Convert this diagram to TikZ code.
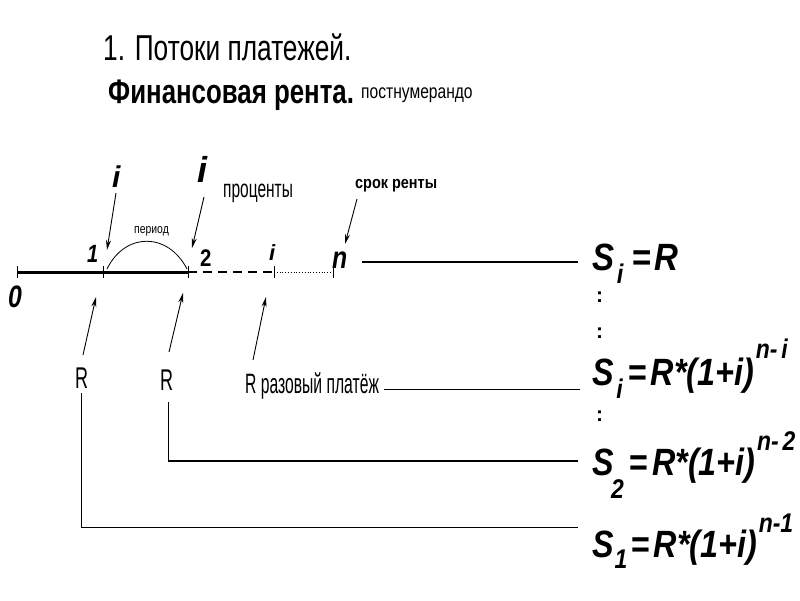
\documentclass[tikz,border=0pt]{standalone}
\usepackage{fontspec}
\usepackage{graphicx}
\setmainfont{Liberation Sans}
\usetikzlibrary{arrows.meta}
\newcommand\sq[2]{\scalebox{#1}[1]{#2}}
\newcommand\fsz[1]{\fontsize{#1}{#1}\selectfont}
\newcommand\fbi{\bfseries\itshape}
\newcommand\ssub[2]{\raisebox{#1}{\fsz{27}#2}}
\begin{document}
\begin{tikzpicture}[x=1pt,y=-1pt,
  txt/.style={inner sep=0pt, anchor=base west},
  arr/.style={line width=0.9pt, -{Stealth[length=10pt,width=5pt]}},
  ln/.style={line width=1pt},
  tick/.style={line width=0.6pt},
  frm/.style={txt, font=\fsz{38}\fbi}]
\useasboundingbox[fill=white] (0,0) rectangle (800,600);

% titles
\node[txt] (t1) at (103,60) {\fsz{36}\sq{0.73}{1. Потоки платежей.}};
\node[txt] (t2) at (108,103) {\fsz{34}\bfseries\sq{0.76}{Финансовая рента.}};
\node[txt] (t3) at (361,98) {\fsz{20}\sq{0.78}{постнумерандо}};

% timeline
\coordinate (p0) at (17,272);
\coordinate (p1) at (103,272);
\coordinate (p2) at (188,272);
\coordinate (pi) at (274,272);
\coordinate (pn) at (333,272);
\draw[line width=3pt] (p0) -- (p2);
\draw[line width=1.5pt, dash pattern=on 9pt off 6pt] (p2) -- (pi);
\draw[line width=0.8pt, dotted] (pi) -- (pn);
\foreach \p in {p0,p1,p2,pi,pn}
  \draw[tick] ([yshift=-6pt]\p) -- ([yshift=6pt]\p);
\draw[line width=0.8pt] (107,269) .. controls (125,232) and (168,232) .. (187,269);

% timeline labels
\node[txt] (l0) at (8,307) {\fsz{31}\fbi\sq{0.8}{0}};
\node[txt] (l1) at (87,262) {\fsz{25}\fbi\sq{0.8}{1}};
\node[txt] (l2) at (200,266) {\fsz{24}\bfseries\sq{0.85}{2}};
\node[txt] (li) at (269,260) {\fsz{22}\fbi i};
\node[txt] (ln) at (332,268) {\fsz{31}\fbi\sq{0.8}{n}};
\node[txt] (ia) at (112,187) {\fsz{30}\fbi i};
\node[txt] (ib) at (197,182) {\fsz{36}\fbi i};
\node[txt] (pr) at (223,197) {\fsz{25}\sq{0.62}{проценты}};
\node[txt] (sr) at (355,188) {\fsz{17}\bfseries\sq{0.85}{срок ренты}};
\node[txt] (pe) at (134,233) {\fsz{13}\sq{0.8}{период}};

% top arrows
\coordinate (a1s) at (116,193); \coordinate (a1e) at (107,250);
\coordinate (a2s) at (204,197); \coordinate (a2e) at (192,248);
\coordinate (a3s) at (357,199); \coordinate (a3e) at (345,244);
\draw[arr] (a1s) -- (a1e);
\draw[arr] (a2s) -- (a2e);
\draw[arr] (a3s) -- (a3e);

% bottom arrows
\coordinate (b1s) at (83,355); \coordinate (b1e) at (96,297);
\coordinate (b2s) at (169,352); \coordinate (b2e) at (183,293);
\coordinate (b3s) at (253,360); \coordinate (b3e) at (266,297);
\draw[arr] (b1s) -- (b1e);
\draw[arr] (b2s) -- (b2e);
\draw[arr] (b3s) -- (b3e);

% R labels
\node[txt] (r1) at (75,388) {\fsz{30}\sq{0.6}{R}};
\node[txt] (r2) at (160,390) {\fsz{30}\sq{0.6}{R}};
\node[txt] (r3) at (245,393) {\fsz{28}\sq{0.56}{R разовый платёж}};

% formulas
\node[frm] (f1) at (592,270) {\sq{0.87}{S\hspace{3pt}\ssub{-13pt}{i}\hspace{10pt}{\upshape=}\hspace{4pt}R}};
\node[frm] (f2) at (592,385) {\sq{0.85}{S\hspace{3pt}\ssub{-13pt}{i}\hspace{7pt}{\upshape=}\hspace{4pt}R*(1+i)\hspace{2pt}\ssub{27pt}{n-\,i}}};
\node[frm] (f3) at (592,475) {\sq{0.85}{S\hspace{-3pt}\ssub{-23pt}{2}\hspace{7pt}{\upshape=}\hspace{4pt}R*(1+i)\hspace{2pt}\ssub{25pt}{n-\,2}}};
\node[frm] (f4) at (592,557) {\sq{0.85}{S\hspace{1pt}\ssub{-11pt}{1}\hspace{5pt}{\upshape=}\hspace{4pt}R*(1+i)\hspace{2pt}\ssub{25pt}{n-1}}};

% vertical dots
\node[txt] (d1) at (596,302) {\fsz{21}\bfseries :};
\node[txt] (d2) at (596,338) {\fsz{21}\bfseries :};
\node[txt] (d3) at (596,421) {\fsz{21}\bfseries :};

% connecting lines
\coordinate (e1) at (578,262);
\coordinate (e2) at (580,389);
\coordinate (e3) at (578,461);
\coordinate (e4) at (578,527);
\draw[line width=1.2pt] (362,262) -- (e1);
\draw[ln] ([xshift=5pt]r3.base east |- e2) -- (e2);
\draw[ln] (168,402) -- (168,461);
\draw[line width=2pt] (168,461) -- (e3);
\draw[ln] (81,393) |- (e4);
\end{tikzpicture}
\end{document}
